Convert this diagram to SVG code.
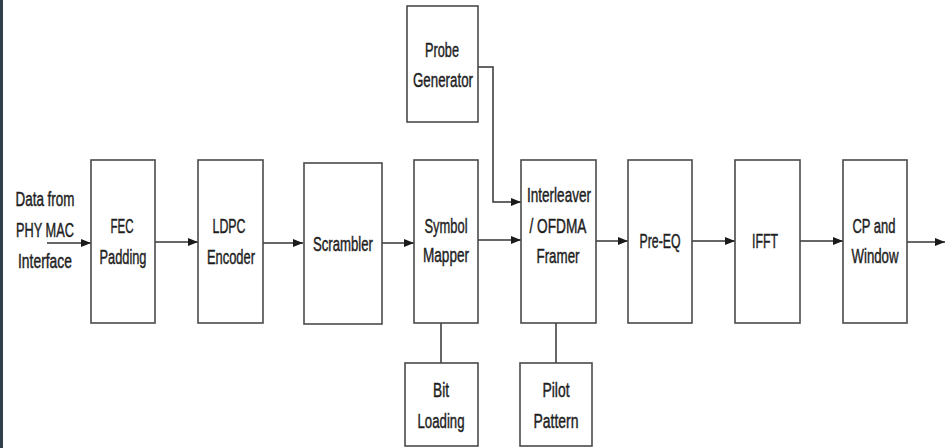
<svg xmlns="http://www.w3.org/2000/svg" width="945" height="448" viewBox="0 0 945 448">
<defs>
<marker id="ah" markerWidth="10" markerHeight="8" refX="10" refY="4" orient="auto" markerUnits="userSpaceOnUse">
<path d="M0,0 L10,4 L0,8 Z" fill="#1a1a1a"/>
</marker>
<style>
.box{fill:#fff;stroke:#4a4a4a;stroke-width:1.6}
.t{font-family:"Liberation Sans",Arial,sans-serif;font-size:20px;fill:#1e1e1e;stroke:#1e1e1e;stroke-width:0.45;text-anchor:middle}
.c{fill:none;stroke:#333;stroke-width:1.5}
</style>
</defs>
<rect x="0" y="0" width="945" height="448" fill="#fff"/>
<rect x="0" y="0" width="3" height="448" fill="#2f3f4b"/>

<g id="input-label">
<text class="t" x="45" y="206" textLength="59" lengthAdjust="spacingAndGlyphs">Data from</text>
<text class="t" x="45" y="237" textLength="58" lengthAdjust="spacingAndGlyphs">PHY MAC</text>
<text class="t" x="45" y="268" textLength="54" lengthAdjust="spacingAndGlyphs">Interface</text>
</g>

<g id="connectors">
<line class="c" x1="47" y1="243" x2="91" y2="243" marker-end="url(#ah)"/>
<line class="c" x1="155" y1="242" x2="198" y2="242" marker-end="url(#ah)"/>
<line class="c" x1="263" y1="243" x2="303" y2="243" marker-end="url(#ah)"/>
<line class="c" x1="372" y1="243" x2="414" y2="243" marker-end="url(#ah)"/>
<line class="c" x1="478" y1="240" x2="521" y2="240" marker-end="url(#ah)"/>
<polyline class="c" points="478,67 493,67 493,202 521,202" marker-end="url(#ah)"/>
<line class="c" x1="596" y1="241" x2="628" y2="241" marker-end="url(#ah)"/>
<line class="c" x1="692" y1="241" x2="735" y2="241" marker-end="url(#ah)"/>
<line class="c" x1="800" y1="241" x2="843" y2="241" marker-end="url(#ah)"/>
<line class="c" x1="907" y1="242" x2="945" y2="242" marker-end="url(#ah)"/>
<line class="c" x1="441" y1="323" x2="441" y2="363"/>
<line class="c" x1="556" y1="323" x2="556" y2="363"/>
</g>

<g id="fec-padding">
<rect class="box" x="91" y="160" width="64" height="163"/>
<text class="t" x="122" y="233" textLength="23" lengthAdjust="spacingAndGlyphs">FEC</text>
<text class="t" x="123" y="264" textLength="47" lengthAdjust="spacingAndGlyphs">Padding</text>
</g>

<g id="ldpc-encoder">
<rect class="box" x="198" y="160" width="65" height="163"/>
<text class="t" x="229" y="233" textLength="33" lengthAdjust="spacingAndGlyphs">LDPC</text>
<text class="t" x="231" y="264" textLength="48" lengthAdjust="spacingAndGlyphs">Encoder</text>
</g>

<g id="scrambler">
<rect class="box" x="304" y="163" width="78" height="161"/>
<text class="t" x="343" y="251" textLength="60" lengthAdjust="spacingAndGlyphs">Scrambler</text>
</g>

<g id="symbol-mapper">
<rect class="box" x="414" y="160" width="64" height="163"/>
<text class="t" x="446" y="233" textLength="43" lengthAdjust="spacingAndGlyphs">Symbol</text>
<text class="t" x="446" y="262" textLength="46" lengthAdjust="spacingAndGlyphs">Mapper</text>
</g>

<g id="interleaver">
<rect class="box" x="521" y="160" width="75" height="163"/>
<text class="t" x="559" y="202" textLength="64" lengthAdjust="spacingAndGlyphs">Interleaver</text>
<text class="t" x="558" y="233" textLength="57" lengthAdjust="spacingAndGlyphs">/ OFDMA</text>
<text class="t" x="558" y="263" textLength="43" lengthAdjust="spacingAndGlyphs">Framer</text>
</g>

<g id="pre-eq">
<rect class="box" x="628" y="160" width="64" height="163"/>
<text class="t" x="660" y="248" textLength="41" lengthAdjust="spacingAndGlyphs">Pre-EQ</text>
</g>

<g id="ifft">
<rect class="box" x="735" y="160" width="65" height="163"/>
<text class="t" x="765" y="248" textLength="26" lengthAdjust="spacingAndGlyphs">IFFT</text>
</g>

<g id="cp-window">
<rect class="box" x="843" y="160" width="64" height="163"/>
<text class="t" x="874" y="233" textLength="43" lengthAdjust="spacingAndGlyphs">CP and</text>
<text class="t" x="875" y="263" textLength="47" lengthAdjust="spacingAndGlyphs">Window</text>
</g>

<g id="probe-generator">
<rect class="box" x="407" y="6" width="71" height="116"/>
<text class="t" x="442" y="57" textLength="34" lengthAdjust="spacingAndGlyphs">Probe</text>
<text class="t" x="443" y="87" textLength="60" lengthAdjust="spacingAndGlyphs">Generator</text>
</g>

<g id="bit-loading">
<rect class="box" x="405" y="363" width="73" height="83"/>
<text class="t" x="441" y="397" textLength="16" lengthAdjust="spacingAndGlyphs">Bit</text>
<text class="t" x="441" y="428" textLength="47" lengthAdjust="spacingAndGlyphs">Loading</text>
</g>

<g id="pilot-pattern">
<rect class="box" x="520" y="363" width="72" height="83"/>
<text class="t" x="556" y="397" textLength="27" lengthAdjust="spacingAndGlyphs">Pilot</text>
<text class="t" x="556" y="428" textLength="45" lengthAdjust="spacingAndGlyphs">Pattern</text>
</g>
</svg>
